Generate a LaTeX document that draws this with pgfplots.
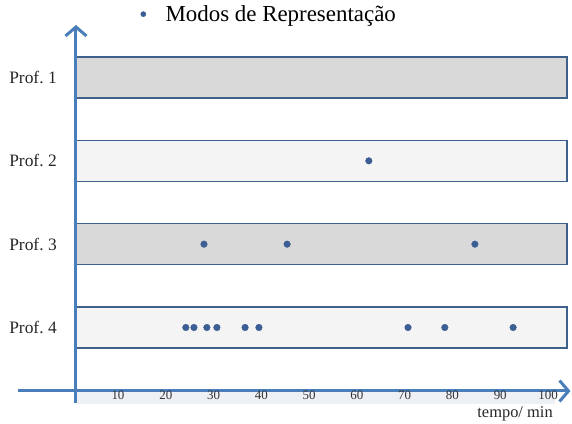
\documentclass[border=0pt]{standalone}
\usepackage{fontspec}
\setmainfont{Liberation Serif}
\usepackage{pgfplots}
\pgfplotsset{compat=1.18}
\usetikzlibrary{arrows.meta}

\definecolor{axisblue}{HTML}{4A7EBB}
\definecolor{dotblue}{HTML}{3B5F94}
\definecolor{bandedge}{HTML}{40608C}
\definecolor{banddark}{HTML}{D9D9D9}
\definecolor{bandlight}{HTML}{F4F4F4}
\definecolor{stripe}{HTML}{EDF0F4}

\begin{document}
\begin{tikzpicture}
\begin{axis}[
    width=572bp, height=424bp, scale only axis,
    xmin=-14.69, xmax=105.02,
    ymin=-0.158, ymax=4.93,
    clip=false,
    axis on top,
    axis line style={draw=none},
    tick style={draw=none},
    xtick={10,20,...,100},
    ytick={1,2,3,4},
    yticklabels={Prof.\ 4, Prof.\ 3, Prof.\ 2, Prof.\ 1},
    xticklabel style={anchor=center, yshift=29bp, font=\fontsize{13}{15}\selectfont, text=black!80},
    yticklabel style={anchor=center, xshift=33bp, font=\fontsize{17.5}{20}\selectfont, text=black!85},
    /pgf/number format/assume math mode=true,
    legend style={draw=none, fill=none, at={(axis cs:13.55,4.76)}, anchor=west,
                  inner sep=0pt, font=\fontsize{23}{26}\selectfont},
    legend image code/.code={\path (0bp,0bp) (28bp,0bp); \fill[dotblue] (8bp,0bp) circle (2.6bp);},
    legend cell align=left,
]

    % light strip under the time axis
    \addplot[draw=none, fill=stripe, forget plot]
        coordinates {(1.21,0.238) (101.5,0.238) (101.5,0.08) (1.21,0.08)} -- cycle;

    % bands, one for each teacher
    \addplot[draw=bandedge, line width=1.4bp, fill=banddark, forget plot]
        coordinates {(1.21,3.754) (104.0,3.754) (104.0,4.246) (1.21,4.246)} -- cycle;
    \addplot[draw=bandedge, line width=1.4bp, fill=bandlight, forget plot]
        coordinates {(1.21,2.754) (104.0,2.754) (104.0,3.246) (1.21,3.246)} -- cycle;
    \addplot[draw=bandedge, line width=1.4bp, fill=banddark, forget plot]
        coordinates {(1.21,1.754) (104.0,1.754) (104.0,2.246) (1.21,2.246)} -- cycle;
    \addplot[draw=bandedge, line width=1.4bp, fill=bandlight, forget plot]
        coordinates {(1.21,0.754) (104.0,0.754) (104.0,1.246) (1.21,1.246)} -- cycle;

    % axes with open arrow heads
    \addplot[axisblue, line width=3bp, forget plot, -{Straight Barb[length=9bp,width=21bp]}]
        coordinates {(1.21,0.094) (1.21,4.63)};
    \addplot[axisblue, line width=3bp, forget plot, -{Straight Barb[length=9bp,width=21bp]}]
        coordinates {(-10.93,0.238) (104.7,0.238)};

    % moments
    \addplot[only marks, mark=*, mark size=3.3bp, color=dotblue]
        coordinates {
            (62.5,3)
            (28.0,2) (45.4,2) (84.7,2)
            (24.2,1) (25.9,1) (28.6,1) (30.7,1) (36.6,1) (39.5,1)
            (70.7,1) (78.4,1) (92.7,1)
        };
    \addlegendentry{Modos de Representação}

    \node[font=\fontsize{16.5}{18}\selectfont, text=black!85] at (axis cs:93.1,-0.03) {tempo/ min};

\end{axis}
\end{tikzpicture}
\end{document}
